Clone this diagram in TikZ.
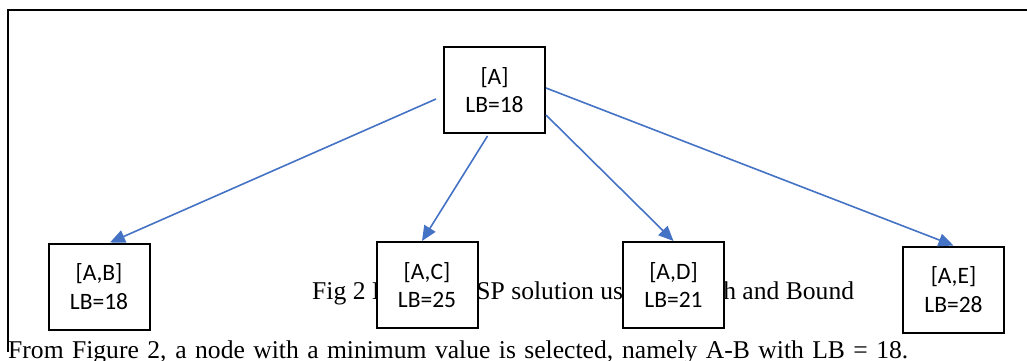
\documentclass[tikz,border=0pt]{standalone}
\usepackage{fontspec}
\setmainfont{Liberation Serif}
\newfontfamily\calibrifont{Carlito}
\usetikzlibrary{arrows.meta}
\definecolor{branchblue}{RGB}{68,114,196}
\begin{document}
\begin{tikzpicture}[x=1pt, y=-1pt,
    bnb/.style={draw, line width=2pt, fill=white, minimum width=101pt, minimum height=86pt,
      inner sep=0pt, align=center, font=\calibrifont\fontsize{23.5}{28.5}\selectfont},
    branch/.style={draw=branchblue, line width=1.6pt, -{Triangle[length=15pt,width=13pt]}},
    txt/.style={anchor=base west, inner sep=0pt, font=\fontsize{25.6}{30}\selectfont}]
        \useasboundingbox (0,0) rectangle (1027,360);
        \draw [line width=2.2pt] (8,352) -- (8,10) -- (1027,10);

        \node (cap) at (312,299) [txt] {Fig 2 Ilustrasi TSP solution using Branch and Bound};
        \node (para) at (8,358) [txt] {\makebox[900pt][s]{From Figure 2, a node with a minimum value is selected, namely A-B with LB = 18.}};

        \node (A)  at (494.5, 90)  [bnb] {[A]\\LB=18};
        \node (AB) at (99,  286.5) [bnb] {[A,B]\\LB=18};
        \node (AC) at (427, 285)   [bnb] {[A,C]\\LB=25};
        \node (AD) at (673.5, 285) [bnb] {[A,D]\\LB=21};
        \node (AE) at (953.5, 289.5) [bnb] {[A,E]\\LB=28};

        \draw [branch] ([xshift=-7pt,yshift=-9pt]A.west) -- ([xshift=11pt]AB.north);
        \draw [branch] ([xshift=-7pt,yshift=-2pt]A.south) -- ([xshift=-5pt]AC.north);
        \draw [branch] ([yshift=-25pt]A.east) -- (AD.north);
        \draw [branch] ([yshift=2pt]A.east) -- (AE.north);
      \end{tikzpicture}
\end{document}
